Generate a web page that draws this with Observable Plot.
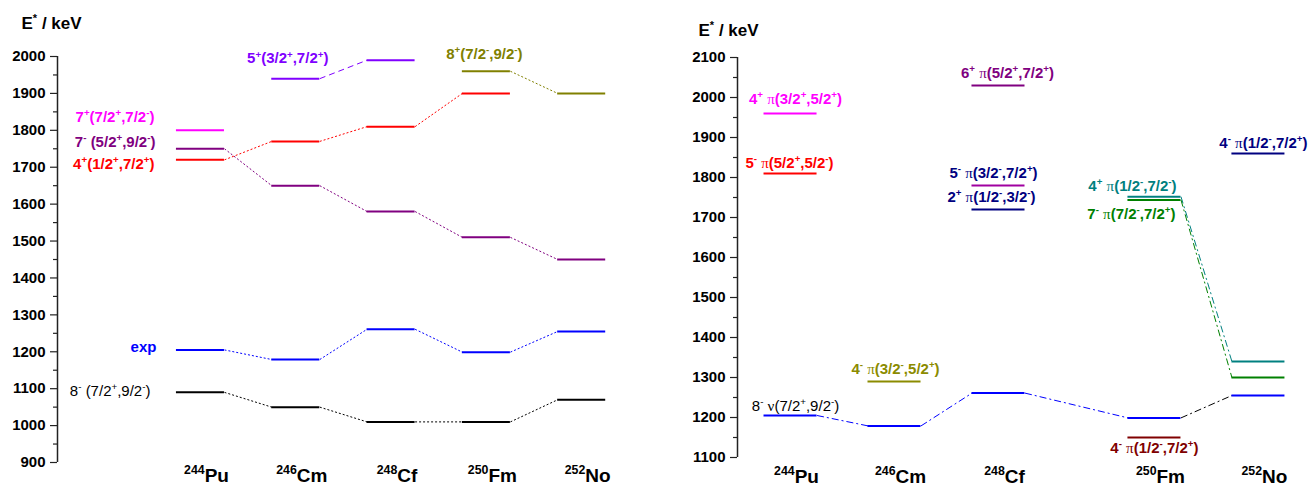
<!DOCTYPE html>
<html><head><meta charset="utf-8">
<script src="https://cdn.jsdelivr.net/npm/d3@7"></script>
<script src="https://cdn.jsdelivr.net/npm/@observablehq/plot@0.6"></script>
<style>
html,body{margin:0;padding:0;background:#fff;}
#wrap{display:flex;width:1312px;height:486px;overflow:hidden;}
#wrap svg{display:block;flex:none;}
</style></head><body><div id="wrap"></div>
<script>
// ---------- DATA ----------
const nuclei = ["^{244}Pu", "^{246}Cm", "^{248}Cf", "^{250}Fm", "^{252}No"];
const leftPos = [0, 1, 2, 3, 4];
const rightPos = [0, 1, 2, 3.5, 4.5];
const leftMajorTicks = d3.range(900, 2001, 100);
const leftMinorTicks = d3.range(950, 2000, 100);
const rightMajorTicks = d3.range(1100, 2101, 100);
const rightMinorTicks = d3.range(1150, 2100, 100);
const axisTitle = "E^* / keV";

// left panel energies (keV), one value per nucleus
const expE   = [1205, 1179, 1261, 1199, 1255];
const L_7p   = [1800, null, null, null, null];
const L_7m   = [1750, 1650, 1580, 1510, 1450];
const L_4p   = [1720, 1770, 1810, 1900, null];
const L_8m   = [1090, 1050, 1010, 1010, 1070];
const L_5p   = [null, 1940, 1990, null, null];
const L_8p   = [null, null, null, 1960, 1900];
const leftLabels = ["7^+(7/2^+,7/2^-)", "7^- (5/2^+,9/2^-)", "4^+(1/2^+,7/2^+)", "exp",
                    "8^- (7/2^+,9/2^-)", "5^+(3/2^+,7/2^+)", "8^+(7/2^-,9/2^-)"];

// right panel energies (keV)
const R_gs     = [1205, 1179, 1261, 1199, 1255];
const R_4p3252 = [1960, null, null, null, null];
const R_5m5252 = [1810, null, null, null, null];
const R_4m3252 = [null, 1290, null, null, null];
const R_6p     = [null, null, 2030, null, null];
const R_5m3272 = [null, null, 1780, null, null];
const R_2p     = [null, null, 1720, null, null];
const R_4p1272 = [null, null, null, 1752, 1340];
const R_7m     = [null, null, null, 1744, 1300];
const R_4mFm   = [null, null, null, 1150, null];
const R_4mNo   = [null, null, null, null, 1860];
const rightLabels = ["8^- ν(7/2^+,9/2^-)", "4^+ π(3/2^+,5/2^+)", "5^- π(5/2^+,5/2^-)", "4^- π(3/2^-,5/2^+)",
                     "6^+ π(5/2^+,7/2^+)", "5^- π(3/2^-,7/2^+)", "2^+ π(1/2^-,3/2^-)", "4^+ π(1/2^-,7/2^-)",
                     "7^- π(7/2^-,7/2^+)", "4^- π(1/2^-,7/2^+)", "4^- π(1/2^-,7/2^+)"];

// ---------- STYLE / LAYOUT ----------
const DOT = "2,2", DASH = "6,4", DASHDOT = "7,3,2,3";
const leftSeries = [
  {E: L_7p, label: leftLabels[0], color: "#ff00ff", at: 0, anchor: "end", dx: -46, dy: -13},
  {E: L_7m, label: leftLabels[1], color: "#800080", at: 0, anchor: "end", dx: -45, dy: -7, dash: DOT},
  {E: L_4p, label: leftLabels[2], color: "#ff0000", at: 0, anchor: "end", dx: -46, dy: 4, dash: DOT},
  {E: expE, label: leftLabels[3], color: "#0000ff", at: 0, anchor: "end", dx: -44, dy: -3, dash: DOT},
  {E: L_8m, label: leftLabels[4], color: "#000000", at: 0, anchor: "end", dx: -50, dy: -1, dash: DOT, weight: "normal"},
  {E: L_5p, label: leftLabels[5], color: "#8000ff", at: 1, anchor: "middle", dx: -8, dy: -20, dash: DASH},
  {E: L_8p, label: leftLabels[6], color: "#808000", at: 3, anchor: "middle", dx: -2, dy: -17, dash: DOT}
];
const rightSeries = [
  {E: R_gs, label: rightLabels[0], color: "#0000ff", labelColor: "#000000", at: 0, dx: 5, dy: -9, dash: DASHDOT, linkColors: [null, null, null, "#000000"], weight: "normal"},
  {E: R_4p3252, label: rightLabels[1], color: "#ff00ff", at: 0, dx: 5, dy: -14},
  {E: R_5m5252, label: rightLabels[2], color: "#ff0000", at: 0, dx: -1, dy: -10},
  {E: R_4m3252, label: rightLabels[3], color: "#8b8b00", at: 1, dx: 1, dy: -12},
  {E: R_6p, label: rightLabels[4], color: "#800080", at: 2, dx: 9, dy: -12},
  {E: R_5m3272, label: rightLabels[5], color: "#a000a0", labelColor: "#000080", at: 2, dx: -5, dy: -12},
  {E: R_2p, label: rightLabels[6], color: "#000080", at: 2, dx: -7, dy: -12},
  {E: R_4p1272, label: rightLabels[7], color: "#008080", at: 3, dx: -22, dy: -11, dash: DASHDOT},
  {E: R_7m, label: rightLabels[8], color: "#008000", at: 3, dx: -23, dy: 14, dash: DASHDOT},
  {E: R_4mFm, label: rightLabels[9], color: "#800000", at: 3, dx: 0, dy: 11},
  {E: R_4mNo, label: rightLabels[10], color: "#000080", at: 4, dx: 5, dy: -10}
];

// ---------- RICH TEXT (superscripts, serif greek) ----------
function parseRich(s) {
  const segs = []; let buf = "";
  const flush = () => { if (buf) { segs.push({t: buf}); buf = ""; } };
  for (let i = 0; i < s.length; i++) {
    const c = s[i];
    if (c === "^") {
      flush(); let t;
      if (s[i + 1] === "{") { const j = s.indexOf("}", i); t = s.slice(i + 2, j); i = j; }
      else { t = s[i + 1]; i++; }
      segs.push({t, sup: true});
    } else if (c === "π" || c === "ν") { flush(); segs.push({t: c, serif: true}); }
    else buf += c;
  }
  flush(); return segs;
}
function richify(svg) {
  svg.querySelectorAll("text").forEach(el => {
    const s = el.textContent;
    if (!/[\^πν]/.test(s) || el.querySelector("tspan")) return;
    const segs = parseRich(s);
    el.textContent = "";
    let raised = false;
    for (const sg of segs) {
      const ts = document.createElementNS("http://www.w3.org/2000/svg", "tspan");
      ts.textContent = sg.t;
      if (sg.sup) {
        ts.setAttribute("font-size", "65%");
        if (!raised) { ts.setAttribute("dy", "-0.6em"); raised = true; }
      } else {
        if (raised) { ts.setAttribute("dy", "0.39em"); raised = false; }
        if (sg.serif) { ts.setAttribute("font-family", "Liberation Serif, Times New Roman, serif"); ts.setAttribute("font-weight", "normal"); }
      }
      el.appendChild(ts);
    }
  });
}

// ---------- PANEL ----------
function panel(o) {
  const {pos, series, hw} = o;
  const marks = [];
  const bars = [];
  series.forEach(s => {
    s.E.forEach((e, i) => { if (e != null) bars.push({x1: pos[i] - hw, x2: pos[i] + hw, y: e, c: s.color}); });
    if (s.dash) {
      for (let i = 0; i < s.E.length - 1; i++) {
        if (s.E[i] != null && s.E[i + 1] != null) {
          const c = (s.linkColors && s.linkColors[i]) || s.color;
          marks.push(Plot.link([{x1: pos[i] + hw, y1: s.E[i], x2: pos[i + 1] - hw, y2: s.E[i + 1]}],
            {x1: "x1", y1: "y1", x2: "x2", y2: "y2", stroke: c, strokeWidth: 1, strokeDasharray: s.dash}));
        }
      }
    }
  });
  marks.push(Plot.ruleY(bars, {y: "y", x1: "x1", x2: "x2", stroke: d => d.c, strokeWidth: 2}));
  series.forEach(s => {
    marks.push(Plot.text([{x: pos[s.at], y: s.E[s.at], t: s.label}], {
      x: "x", y: "y", text: "t", fill: s.labelColor || s.color, dx: s.dx, dy: s.dy,
      textAnchor: s.anchor || "middle", lineAnchor: "middle", fontSize: 15, fontWeight: s.weight || "bold"
    }));
  });
  // axis
  marks.push(Plot.ruleX([o.xDomain[0]], {y1: o.yDomain[0], y2: o.yDomain[1], stroke: "#222", strokeWidth: 1.5}));
  marks.push(Plot.axisY(o.major, {anchor: "left", tickSize: 7, tickPadding: 5, tickFormat: "d", fontSize: 15, fontWeight: "bold", label: null, stroke: "#222", strokeWidth: 1.2, fill: "#000"}));
  marks.push(Plot.axisY(o.minor, {anchor: "left", tickSize: 4, tickFormat: () => "", label: null, stroke: "#222", strokeWidth: 1.2}));
  // category labels
  marks.push(Plot.text(nuclei, {x: (d, i) => pos[i], text: d => d, frameAnchor: "bottom", lineAnchor: "bottom",
    dx: 6, dy: o.catDy, fontSize: 19, fontWeight: "bold", fill: "#000"}));
  // title
  marks.push(Plot.text([axisTitle], {text: d => d, frameAnchor: "top-left", textAnchor: "start", lineAnchor: "middle",
    dx: o.titleDx, dy: o.titleDy, fontSize: 17, fontWeight: "bold", fill: "#000"}));
  const svg = Plot.plot({
    width: 656, height: 486,
    marginLeft: o.marginLeft, marginRight: 0, marginTop: o.marginTop, marginBottom: o.marginBottom,
    x: {type: "linear", domain: o.xDomain, axis: null},
    y: {type: "linear", domain: o.yDomain},
    style: {fontFamily: "Liberation Sans, Arial, Helvetica, sans-serif", background: "#fff", overflow: "visible"},
    marks
  });
  richify(svg);
  return svg;
}

const wrap = document.getElementById("wrap");
wrap.appendChild(panel({
  pos: leftPos, series: leftSeries, hw: 0.252,
  xDomain: [-1.5, 4.785], yDomain: [900, 2000], major: leftMajorTicks, minor: leftMinorTicks,
  marginLeft: 57, marginTop: 56, marginBottom: 24, catDy: 19, titleDx: -36, titleDy: -33
}));
wrap.appendChild(panel({
  pos: rightPos, series: rightSeries, hw: 0.255,
  xDomain: [-0.51, 5.02], yDomain: [1100, 2100], major: rightMajorTicks, minor: rightMinorTicks,
  marginLeft: 81, marginTop: 57, marginBottom: 29, catDy: 25, titleDx: -39, titleDy: -27
}));
</script></body></html>
